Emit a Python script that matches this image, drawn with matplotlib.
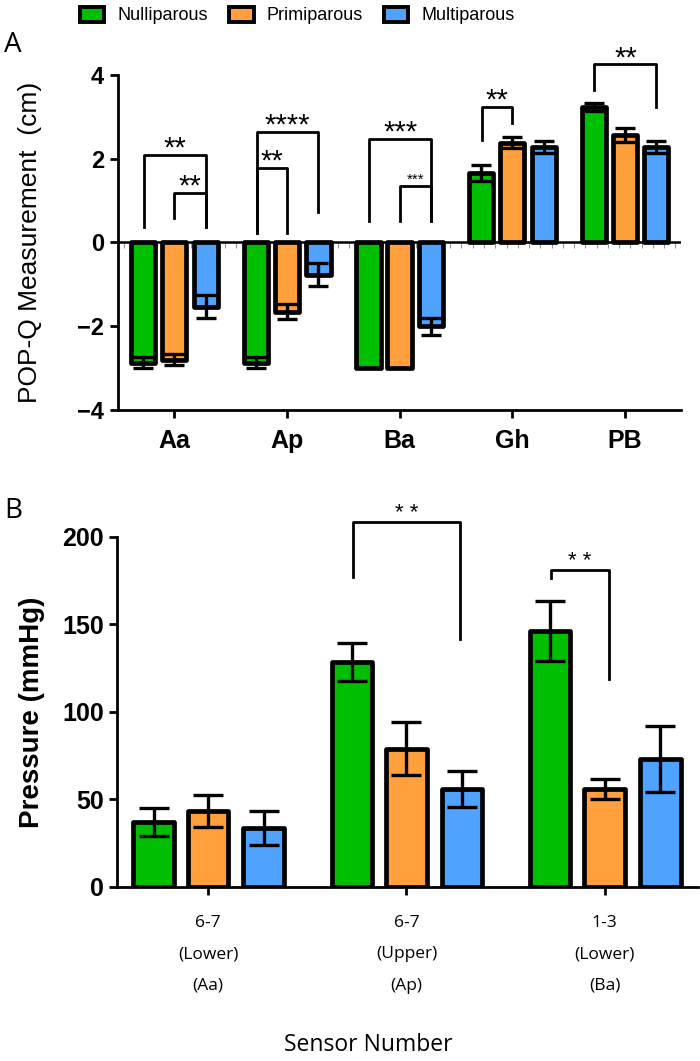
import numpy as np
import matplotlib
matplotlib.use("Agg")
import matplotlib.pyplot as plt
from matplotlib.patches import Patch

plt.rcParams['font.family'] = ['Liberation Sans', 'DejaVu Sans']

groups = ["Nulliparous", "Primiparous", "Multiparous"]
colors = ["#00BF00", "#FFA03C", "#50A2FF"]

# panel A: POP-Q measurement (cm)
popq_cats = ["Aa", "Ap", "Ba", "Gh", "PB"]
popq_null = [-2.87, -2.87, -3.0, 1.66, 3.24]
popq_prim = [-2.80, -1.65, -3.0, 2.38, 2.57]
popq_mult = [-1.53, -0.77, -2.0, 2.28, 2.28]
popq_null_err = [0.13, 0.13, 0.0, 0.18, 0.10]
popq_prim_err = [0.13, 0.18, 0.0, 0.13, 0.17]
popq_mult_err = [0.27, 0.27, 0.20, 0.14, 0.14]

# panel B: pressure (mmHg)
sens_cats = ["6-7\n(Lower)\n(Aa)", "6-7\n(Upper)\n(Ap)", "1-3\n(Lower)\n(Ba)"]
pres_null = [37, 128.6, 146.3]
pres_prim = [43.4, 79, 56]
pres_mult = [33.7, 56, 73]
pres_null_err = [8, 11, 17]
pres_prim_err = [9, 15, 5.5]
pres_mult_err = [9.5, 10.5, 19]

# significance brackets: (x_left, x_right, y_top, y_left_bottom, y_right_bottom, label, size)
sig_a = [
    (-0.27, 0.28, 2.1, 0.37, 0.37, "**", 21),
    (0.0, 0.28, 1.18, 0.58, 0.37, "**", 21),
    (0.73, 1.28, 2.64, 0.22, 0.73, "****", 21),
    (0.73, 1.0, 1.78, 0.22, 0.22, "**", 21),
    (1.73, 2.28, 2.47, 0.52, 0.52, "***", 21),
    (2.0, 2.28, 1.35, 0.52, 0.52, "***", 11),
    (2.73, 3.0, 3.24, 2.45, 2.85, "**", 21),
    (3.73, 4.28, 4.26, 3.64, 3.24, "**", 21),
]
sig_b = [
    (0.73, 1.27, 208.6, 177, 141.7, "* *", 16),
    (1.73, 2.02, 181, 176.5, 119, "* *", 16),
]

fig = plt.figure(figsize=(7, 10.61), dpi=100)

offs = [-0.275, 0.0, 0.28]

# ---------- panel A ----------
ax = fig.add_axes([0.1686, 0.6136, 0.8044, 0.3157])
x = np.arange(len(popq_cats))
vals = [popq_null, popq_prim, popq_mult]
errs = [popq_null_err, popq_prim_err, popq_mult_err]
for i in range(3):
    ax.bar(x + offs[i], vals[i], 0.215, color=colors[i], edgecolor='black', linewidth=3.4,
           joinstyle='round', zorder=3)
    e = np.array(errs[i])
    m = e > 0
    ax.errorbar((x + offs[i])[m], np.array(vals[i])[m], yerr=e[m], fmt='none', ecolor='black',
                elinewidth=2.4, capsize=7, capthick=2.4, zorder=4)
ax.axhline(0, color='black', lw=1.8, zorder=2)
# faint little ticks under the zero line
zt = np.arange(-0.45, 4.5, 0.1)
ax.plot(zt, np.zeros_like(zt) - 0.06, ls='none', marker='|', ms=4, mew=0.8, color='#999999', zorder=1)
ax.set_xlim(-0.5, 4.5)
ax.set_ylim(-4, 4)
ax.set_yticks([-4, -2, 0, 2, 4])
ax.set_xticks(x)
ax.set_xticklabels(popq_cats, fontsize=18, fontweight='bold')
for lab in ax.get_yticklabels():
    lab.set_fontsize(17)
    lab.set_fontweight('bold')
ax.spines['top'].set_visible(False)
ax.spines['right'].set_visible(False)
ax.spines['left'].set_linewidth(2)
ax.spines['bottom'].set_linewidth(2)
ax.tick_params(width=2, length=6, pad=4)
ax.tick_params(axis='x', pad=8)
ax.set_ylabel("POP-Q Measurement  (cm)", fontsize=19)
ax.yaxis.set_label_coords(-0.135, 0.5)

for xl, xr, yt, yb1, yb2, lab, fs in sig_a:
    ax.plot([xl, xl, xr, xr], [yb1, yt, yt, yb2], color='black', lw=2, clip_on=False, zorder=5)
    ty = yt - 0.19 if fs > 15 else yt - 0.02
    ax.text((xl + xr) / 2, ty, lab, ha='center', va='bottom', fontsize=fs, clip_on=False)

fig.text(0.006, 0.958, "A", fontsize=20, family=['Open Sans', 'DejaVu Sans'], va='center')

handles = [Patch(facecolor=c, edgecolor='black', linewidth=2.8) for c in colors]
fig.legend(handles, groups, loc='upper center', bbox_to_anchor=(0.425, 1.009), ncol=3,
           frameon=False, fontsize=13,
           handlelength=1.33, handleheight=0.9, columnspacing=1.2, handletextpad=0.72)

# ---------- panel B ----------
bx = fig.add_axes([0.167, 0.164, 0.83, 0.3299])
x = np.arange(len(sens_cats))
vals = [pres_null, pres_prim, pres_mult]
errs = [pres_null_err, pres_prim_err, pres_mult_err]
for i in range(3):
    bx.bar(x + offs[i], vals[i], 0.205, color=colors[i], edgecolor='black', linewidth=3.4,
           joinstyle='round', zorder=3)
    bx.errorbar(x + offs[i], vals[i], yerr=errs[i], fmt='none', ecolor='black',
                elinewidth=2.4, capsize=11, capthick=2.4, zorder=4)
bx.set_xlim(-0.46, 2.47)
bx.set_ylim(0, 200)
bx.set_yticks([0, 50, 100, 150, 200])
bx.set_xticks(x)
bx.set_xticklabels(sens_cats, fontsize=12.5, family=['Open Sans', 'DejaVu Sans'], linespacing=2.3)
for lab in bx.get_yticklabels():
    lab.set_fontsize(18)
    lab.set_fontweight('bold')
bx.spines['top'].set_visible(False)
bx.spines['right'].set_visible(False)
bx.spines['left'].set_linewidth(2)
bx.spines['bottom'].set_linewidth(2)
bx.tick_params(width=2, length=6)
bx.tick_params(axis='x', pad=14)
bx.set_ylabel("Pressure (mmHg)", fontsize=20, fontweight='bold')
bx.yaxis.set_label_coords(-0.124, 0.5)

for xl, xr, yt, yb1, yb2, lab, fs in sig_b:
    bx.plot([xl, xl, xr, xr], [yb1, yt, yt, yb2], color='black', lw=2, clip_on=False, zorder=5)
    bx.text((xl + xr) / 2, yt - 1, lab, ha='center', va='bottom', fontsize=fs, clip_on=False)

fig.text(0.006, 0.518, "B", fontsize=20, family=['Open Sans', 'DejaVu Sans'], va='center')
fig.text(0.526, 0.015, "Sensor Number", fontsize=16.5, family=['Open Sans', 'DejaVu Sans'],
         ha='center', va='center')

fig.savefig("out.png", dpi=100)
